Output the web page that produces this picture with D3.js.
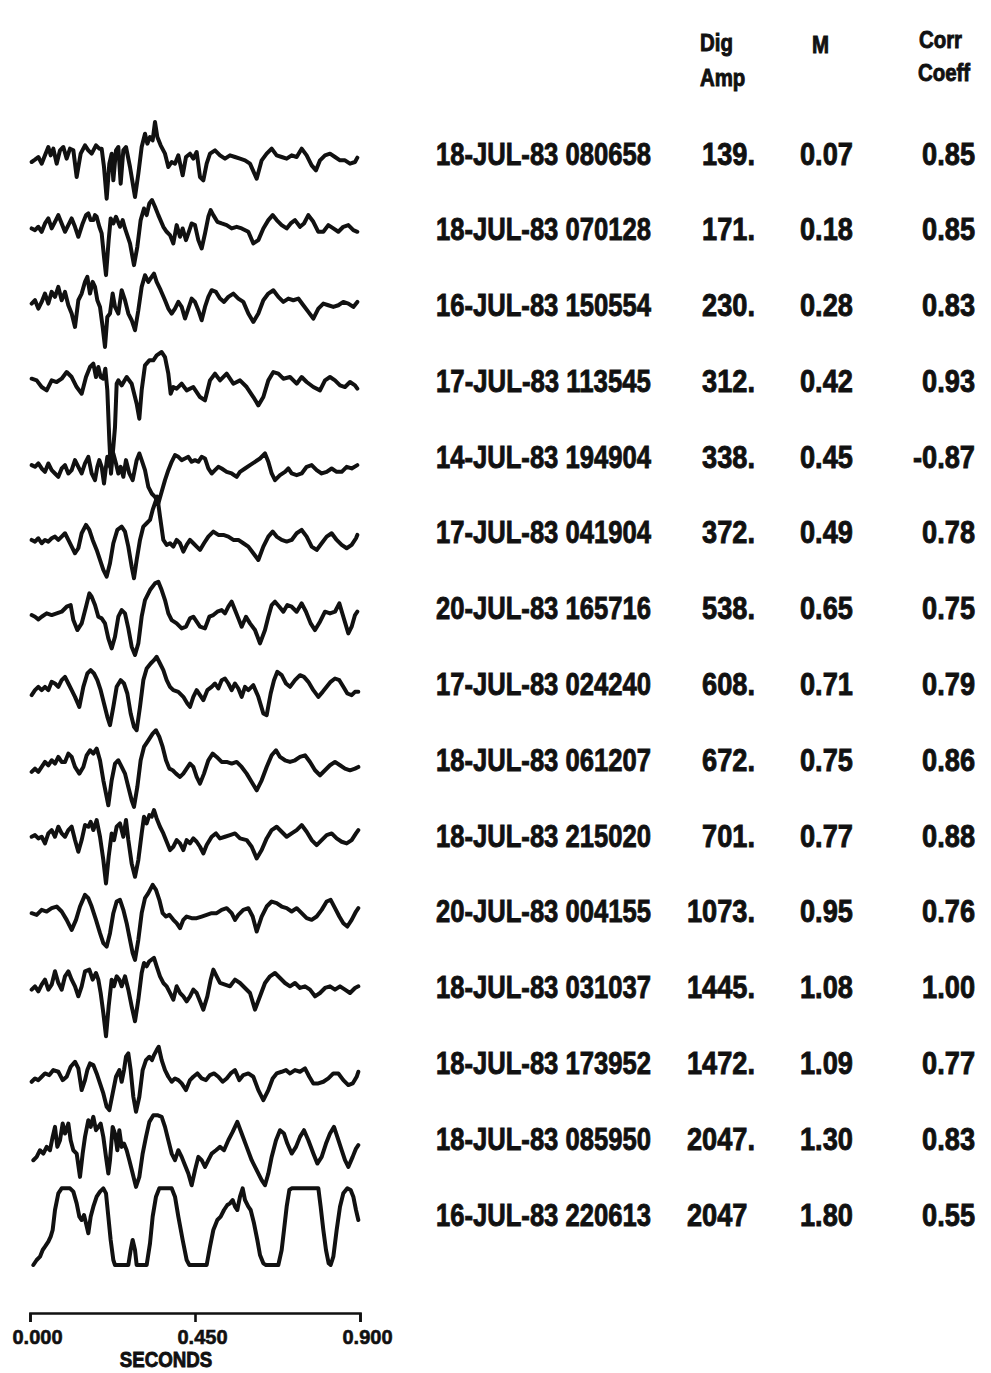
<!DOCTYPE html>
<html>
<head>
<meta charset="utf-8">
<script src="https://cdn.jsdelivr.net/npm/d3@7"></script>
<style>
  html, body { margin: 0; padding: 0; background: #fff; }
  svg { display: block; }
  text { font-family: "Liberation Sans", Arial, sans-serif; font-weight: bold; fill: #111; }
</style>
</head>
<body>
<svg id="chart" width="991" height="1373"></svg>
<script>
// Digitized seismogram records: [sample index, amplitude in counts (relative)]
const SAMPLE_RATE = 1100; // samples per second

const trace01 = [[5,-27],[15,-20],[25,-12],[35,-32],[45,-7],[55,18],[62,-7],[70,13],[80,-32],[90,8],[100,18],[110,-17],[120,13],[130,8],[140,-72],[152,-2],[165,23],[175,8],[185,-2],[198,23],[208,13],[215,13],[222,-42],[230,-137],[238,-32],[245,-2],[250,-82],[258,8],[265,18],[272,-92],[280,8],[288,18],[300,-42],[315,-132],[325,-62],[335,18],[345,58],[352,28],[360,48],[368,38],[375,93],[382,48],[392,23],[405,-2],[415,-42],[425,-27],[435,-32],[445,-7],[458,-67],[468,-12],[480,-2],[490,-17],[500,3],[510,-72],[520,-82],[530,-32],[540,-2],[555,8],[570,-7],[585,-17],[600,-7],[615,-12],[630,-17],[645,-22],[660,-32],[680,-77],[695,-22],[710,-2],[725,13],[740,-7],[755,-12],[770,-17],[785,-7],[800,-12],[815,13],[830,-7],[845,-37],[858,-52],[870,-22],[885,-7],[900,-2],[915,-12],[930,-22],[945,-22],[960,-32],[975,-27],[982,-14]];

const trace02 = [[5,1],[15,-4],[25,6],[35,-9],[45,16],[55,31],[65,1],[75,21],[85,41],[95,16],[105,-9],[115,11],[125,31],[135,6],[145,-24],[158,16],[168,41],[175,46],[182,26],[190,26],[195,41],[200,36],[208,6],[215,-14],[222,-84],[228,-139],[236,-34],[242,31],[250,16],[258,36],[270,6],[278,26],[285,1],[300,-44],[312,-109],[322,-54],[332,26],[342,61],[350,41],[358,76],[366,86],[375,66],[385,41],[400,6],[410,-9],[420,-19],[430,-44],[440,11],[450,-24],[458,1],[468,-34],[475,-14],[485,16],[495,11],[505,-34],[515,-59],[525,-14],[535,36],[542,56],[550,41],[562,21],[575,16],[590,11],[605,1],[620,6],[635,1],[655,-9],[670,-44],[685,-34],[700,1],[715,26],[728,41],[740,26],[755,11],[770,1],[782,16],[795,26],[810,6],[822,16],[835,41],[850,21],[865,-9],[880,-9],[895,11],[910,1],[925,-9],[940,6],[955,11],[970,-4],[982,-9]];

const trace03 = [[5,3],[15,13],[25,-12],[35,8],[45,33],[55,3],[65,38],[75,23],[85,53],[95,13],[105,38],[115,-2],[125,-27],[135,-67],[145,13],[155,33],[165,68],[172,83],[180,33],[188,68],[195,53],[202,13],[210,-7],[218,-67],[225,-127],[232,-37],[240,-27],[248,33],[255,-7],[265,-27],[275,43],[285,13],[295,-27],[305,-47],[315,-77],[325,-17],[335,53],[345,88],[355,68],[365,83],[372,93],[380,68],[392,43],[405,13],[415,-12],[425,-27],[435,-12],[445,8],[455,-7],[465,-42],[475,-12],[485,18],[495,8],[505,-17],[515,-47],[525,-7],[535,23],[545,43],[558,38],[570,18],[582,8],[595,23],[610,33],[625,18],[640,8],[655,-27],[670,-52],[685,-27],[700,13],[715,33],[730,43],[745,23],[760,8],[775,18],[790,13],[805,18],[820,-2],[835,-22],[850,-42],[865,-12],[880,3],[895,-2],[910,-7],[925,-2],[940,8],[955,3],[970,-7],[982,8]];

const trace04 = [[5,5],[20,0],[35,-20],[50,-30],[65,0],[80,-5],[95,5],[110,25],[125,10],[140,-20],[155,-40],[168,10],[180,40],[190,50],[198,10],[205,40],[212,10],[220,5],[226,35],[232,-30],[238,-180],[243,-280],[250,-200],[255,-140],[260,-10],[265,0],[275,-15],[290,10],[305,-10],[320,-70],[328,-115],[335,-30],[345,45],[358,60],[370,60],[380,75],[395,85],[405,70],[415,20],[422,-40],[430,-20],[440,-25],[455,-10],[470,-30],[490,-20],[510,-50],[525,-60],[540,0],[555,20],[570,0],[590,20],[610,-10],[630,0],[650,-20],[670,-50],[685,-75],[700,-50],[715,0],[730,25],[745,20],[760,5],[780,10],[800,-10],[815,10],[830,-5],[850,-20],[870,-30],[885,0],[900,10],[915,0],[930,-15],[945,-20],[960,-5],[975,-15],[982,-25]];

const trace05 = [[5,-27],[15,-32],[25,-22],[35,-37],[45,-47],[55,-22],[65,-42],[75,-52],[85,-62],[95,-37],[105,-27],[115,-52],[125,-42],[135,-12],[145,-32],[155,-52],[165,-22],[175,-2],[185,-52],[195,-72],[202,-32],[208,-12],[215,-32],[222,-82],[228,-32],[232,-2],[240,-32],[250,8],[258,-22],[265,-52],[272,-32],[280,-62],[288,-12],[298,-52],[308,-72],[320,-12],[328,8],[335,-12],[345,-42],[355,-92],[365,-112],[375,-122],[385,-142],[395,-107],[405,-72],[415,-42],[425,-17],[435,3],[445,-2],[455,-12],[465,-7],[475,-2],[485,-17],[495,-12],[505,-17],[515,-2],[525,-7],[535,-37],[545,-52],[555,-42],[565,-32],[575,-37],[590,-47],[605,-52],[620,-62],[630,-47],[645,-37],[660,-27],[675,-17],[690,-7],[705,8],[715,-17],[725,-52],[735,-72],[750,-57],[765,-47],[775,-37],[785,-52],[800,-57],[815,-52],[830,-32],[845,-27],[860,-42],[875,-52],[890,-47],[905,-37],[920,-47],[935,-47],[950,-32],[965,-37],[982,-27]];

const trace06 = [[5,-24],[15,-29],[25,-19],[35,-34],[45,-24],[55,-29],[65,-19],[75,-14],[85,-24],[95,-14],[105,-4],[115,-24],[125,-44],[135,-64],[145,-49],[155,-4],[168,21],[178,6],[188,-24],[200,-54],[210,-84],[220,-114],[230,-134],[240,-94],[250,-34],[262,6],[275,16],[285,1],[295,-44],[305,-104],[312,-139],[320,-84],[330,-24],[340,16],[350,26],[360,36],[368,66],[375,86],[382,106],[390,46],[400,-24],[410,-39],[420,-34],[430,-44],[440,-24],[450,-34],[460,-59],[470,-39],[480,-24],[490,-34],[500,-44],[510,-54],[522,-34],[535,-14],[550,1],[565,-9],[580,-9],[595,-14],[610,-24],[625,-24],[640,-34],[655,-44],[670,-64],[685,-84],[700,-44],[715,-14],[728,1],[740,-14],[755,-24],[770,-29],[785,-24],[800,-4],[815,6],[830,-14],[845,-44],[860,-54],[875,-34],[890,-14],[905,-4],[920,-24],[935,-39],[950,-49],[965,-39],[978,-19],[982,-9]];

const trace07 = [[5,-22],[15,-27],[25,-35],[35,-27],[50,-17],[65,-22],[80,-17],[95,-12],[110,3],[122,8],[130,-37],[142,-67],[155,-47],[168,3],[178,43],[185,33],[195,8],[205,-27],[215,-32],[225,-47],[235,-92],[245,-122],[255,-87],[265,-27],[275,-7],[285,-17],[295,-62],[305,-117],[315,-142],[325,-107],[335,-27],[345,23],[360,53],[375,73],[385,78],[395,53],[405,23],[415,-17],[425,-37],[440,-47],[455,-62],[468,-57],[480,-32],[490,-27],[500,-42],[510,-57],[525,-62],[538,-27],[550,-22],[562,-12],[575,-7],[585,-17],[595,3],[605,18],[615,-7],[625,-32],[635,-57],[648,-27],[660,-47],[675,-67],[690,-107],[705,-67],[715,-27],[725,8],[735,18],[748,3],[760,-12],[772,8],[785,3],[800,-12],[815,13],[828,-12],[842,-47],[855,-67],[870,-42],[885,-12],[900,-17],[915,-12],[928,13],[940,-27],[955,-77],[965,-57],[975,-22],[982,-12]];

const trace08 = [[5,-35],[15,-20],[25,-10],[35,-20],[45,-10],[55,-20],[65,5],[75,0],[85,-10],[95,10],[105,20],[115,0],[125,-20],[135,-40],[148,-70],[160,-10],[172,30],[182,40],[192,30],[202,10],[212,-20],[222,-60],[232,-100],[240,-125],[250,-70],[260,-10],[272,10],[282,0],[292,-30],[302,-90],[312,-130],[320,-140],[330,-70],[340,10],[350,45],[362,60],[372,70],[380,80],[390,60],[400,40],[410,10],[420,-10],[430,-20],[445,-25],[460,-40],[472,-60],[480,-70],[490,-40],[500,-20],[510,-35],[520,-50],[532,-20],[545,-10],[555,0],[565,-15],[575,10],[585,15],[595,0],[605,-20],[615,0],[625,-15],[635,-40],[645,-10],[655,-20],[670,-5],[685,-40],[700,-90],[710,-95],[722,-30],[732,10],[742,35],[755,25],[768,0],[780,-10],[795,10],[810,25],[822,20],[835,5],[850,-20],[865,-40],[878,-25],[890,-10],[902,5],[915,15],[928,10],[940,-10],[952,-30],[965,-35],[975,-25],[985,-25]];

const trace09 = [[5,-38],[15,-28],[25,-38],[35,-23],[45,-8],[55,-18],[65,-3],[75,-13],[85,7],[95,-8],[105,-8],[115,17],[125,7],[135,-23],[148,-43],[160,-23],[170,12],[180,27],[190,17],[200,32],[210,-3],[220,-63],[228,-103],[235,-138],[245,-63],[255,-13],[265,-3],[275,-23],[285,-43],[295,-83],[305,-123],[312,-143],[322,-83],[332,-3],[342,37],[355,57],[368,77],[378,87],[388,67],[398,37],[408,-3],[418,-28],[428,-33],[438,-43],[450,-53],[460,-43],[470,-28],[480,-13],[490,-23],[500,-53],[510,-73],[522,-43],[535,-3],[548,17],[560,7],[575,-8],[590,-8],[605,-13],[620,-8],[635,-23],[650,-43],[665,-68],[680,-93],[695,-63],[710,-23],[725,12],[738,27],[750,7],[765,-3],[780,-8],[795,-3],[810,7],[825,12],[840,-8],[855,-33],[870,-48],[885,-33],[900,-18],[915,-8],[930,-18],[945,-28],[960,-33],[975,-28],[985,-23]];

const trace10 = [[5,-5],[15,0],[25,-10],[35,-5],[45,-25],[55,5],[65,15],[75,-5],[85,25],[95,5],[105,-5],[115,15],[125,25],[135,-15],[145,-50],[155,-15],[165,30],[175,25],[182,40],[190,15],[200,45],[210,-5],[220,-75],[228,-145],[236,-65],[245,5],[252,-15],[260,25],[270,35],[280,-5],[288,45],[295,-15],[305,-85],[315,-125],[325,-75],[335,5],[342,55],[350,35],[358,60],[365,55],[372,75],[380,50],[390,25],[400,5],[410,-20],[420,-45],[430,-35],[440,-15],[450,-25],[460,-45],[470,-15],[480,-25],[490,-10],[500,-20],[510,-35],[520,-55],[530,-30],[545,-5],[558,5],[570,-10],[585,-5],[600,0],[615,5],[630,-10],[650,-15],[665,-35],[680,-70],[695,-45],[710,-10],[725,15],[740,25],[755,10],[770,-5],[785,5],[800,15],[815,30],[830,10],[845,-15],[860,-30],[875,-15],[890,0],[905,5],[920,-10],[935,-20],[950,-25],[965,-15],[978,5],[985,15]];

const trace11 = [[5,-7],[20,-12],[35,3],[50,-2],[65,8],[80,13],[95,-2],[110,-27],[125,-57],[138,-27],[150,13],[165,48],[175,38],[185,13],[198,-27],[210,-67],[220,-97],[230,-107],[240,-67],[250,-7],[260,28],[270,33],[280,3],[290,-37],[300,-87],[308,-127],[315,-147],[325,-87],[335,-7],[345,38],[355,53],[368,78],[378,63],[388,33],[398,-7],[408,-17],[418,-12],[430,-27],[440,-37],[450,-52],[460,-27],[470,-17],[485,-22],[500,-22],[515,-17],[530,-12],[545,-7],[560,-7],[575,3],[590,8],[605,-7],[615,-27],[625,-12],[640,3],[655,8],[668,-17],[680,-62],[695,-17],[710,13],[725,28],[740,23],[755,13],[770,8],[785,-2],[800,8],[815,-7],[830,-22],[845,-27],[860,-17],[875,3],[890,28],[902,33],[915,8],[928,-17],[940,-37],[952,-47],[965,-27],[978,-2],[985,8]];

const trace12 = [[5,-9],[15,1],[25,-14],[35,6],[45,21],[55,-9],[65,6],[75,46],[85,11],[95,-9],[105,31],[115,46],[125,21],[135,1],[145,-29],[155,1],[165,46],[178,51],[188,21],[198,41],[205,21],[212,-19],[220,-79],[228,-149],[236,-59],[245,21],[252,1],[260,31],[268,21],[275,1],[285,31],[295,-9],[305,-59],[315,-104],[325,-39],[335,41],[342,71],[350,61],[358,76],[365,81],[372,86],[380,61],[390,31],[400,11],[410,1],[420,-19],[430,-39],[440,1],[450,-19],[460,-29],[470,-44],[480,-29],[490,-9],[500,-19],[510,-44],[520,-69],[532,-29],[542,21],[550,51],[560,31],[570,11],[585,6],[600,1],[615,21],[630,11],[645,-4],[660,-19],[675,-69],[690,-29],[705,11],[720,31],[735,41],[750,26],[765,11],[780,1],[795,11],[810,-4],[825,1],[840,-9],[855,-29],[870,-19],[885,-4],[900,1],[915,-9],[930,1],[945,-9],[960,-19],[975,-4],[985,1]];

const trace13 = [[5,-58],[15,-48],[25,-53],[35,-43],[45,-33],[58,-38],[70,-23],[85,-28],[98,-53],[110,-43],[122,-13],[135,2],[145,-18],[155,-83],[165,-53],[172,-23],[180,-3],[190,-8],[200,-33],[210,-63],[220,-93],[230,-133],[238,-143],[248,-93],[258,-43],[268,-23],[275,-58],[282,-23],[288,17],[295,27],[302,-23],[310,-103],[318,-148],[328,-103],[338,-23],[348,7],[358,17],[366,7],[372,22],[380,37],[386,47],[395,7],[405,-23],[415,-43],[425,-58],[435,-48],[445,-53],[455,-63],[468,-83],[480,-53],[490,-43],[502,-33],[515,-48],[528,-53],[540,-38],[552,-33],[565,-43],[578,-58],[590,-48],[602,-33],[615,-23],[628,-53],[640,-38],[655,-33],[670,-43],[685,-83],[700,-113],[715,-83],[728,-48],[740,-33],[755,-28],[768,-23],[780,-33],[795,-23],[810,-28],[825,-18],[838,-43],[850,-63],[865,-63],[880,-58],[895,-48],[910,-33],[925,-33],[940,-53],[955,-68],[968,-63],[980,-43],[985,-28]];

const trace14 = [[10,-66],[20,-56],[30,-36],[40,-46],[50,-26],[60,-36],[68,4],[75,34],[82,-26],[90,-6],[98,44],[105,14],[115,44],[122,-6],[130,-36],[140,-46],[150,-116],[158,-46],[165,4],[175,54],[182,34],[190,64],[198,24],[205,34],[212,44],[220,4],[228,-56],[235,-106],[240,-66],[248,34],[255,14],[262,-36],[268,24],[275,-26],[282,-16],[290,-36],[298,-66],[308,-106],[318,-146],[328,-116],[338,-46],[348,4],[358,49],[370,69],[382,69],[395,64],[405,34],[415,-6],[425,-46],[435,-66],[445,-36],[455,-56],[465,-81],[475,-106],[485,-141],[495,-96],[505,-56],[515,-66],[525,-86],[535,-66],[545,-46],[558,-36],[570,-26],[582,-36],[595,-6],[608,19],[622,49],[635,14],[650,-26],[665,-66],[680,-96],[695,-126],[705,-141],[715,-106],[725,-56],[738,-6],[750,24],[762,14],[772,-16],[785,-46],[798,-26],[810,4],[822,24],[835,-6],[850,-46],[862,-76],[875,-56],[888,-16],[900,14],[912,34],[922,4],[935,-36],[945,-66],[955,-86],[968,-56],[978,-31],[985,-21]];

// saturated record: the digitizer clips at full scale
const trace15 = [[10,-153],[20,-138],[30,-128],[38,-108],[45,-98],[55,-83],[62,-68],[68,-48],[75,12],[85,62],[95,77],[120,77],[130,67],[140,32],[148,-8],[155,-18],[162,-3],[168,-28],[175,-58],[182,-8],[190,22],[200,52],[210,67],[220,77],[228,62],[235,-8],[242,-78],[250,-138],[255,-153],[295,-153],[302,-108],[308,-78],[315,-108],[320,-153],[350,-153],[360,-88],[368,-8],[378,52],[388,77],[425,77],[435,52],[445,-8],[458,-78],[470,-138],[478,-153],[530,-153],[540,-98],[550,-48],[562,-18],[572,-8],[582,12],[592,27],[600,32],[608,42],[615,22],[622,12],[630,52],[638,77],[645,42],[655,22],[662,12],[672,-28],[682,-78],[690,-123],[700,-148],[708,-153],[745,-153],[755,-108],[762,-48],[770,22],[778,72],[785,77],[865,77],[872,22],[880,-48],[888,-108],[896,-148],[902,-153],[910,-128],[920,-48],[930,22],[940,62],[952,77],[962,72],[970,52],[978,12],[985,-18]];

const traces = [trace01, trace02, trace03, trace04, trace05, trace06, trace07, trace08,
                trace09, trace10, trace11, trace12, trace13, trace14, trace15];

// Event table
const eventTimes = ["18-JUL-83 080658", "18-JUL-83 070128", "16-JUL-83 150554", "17-JUL-83 113545",
  "14-JUL-83 194904", "17-JUL-83 041904", "20-JUL-83 165716", "17-JUL-83 024240",
  "18-JUL-83 061207", "18-JUL-83 215020", "20-JUL-83 004155", "18-JUL-83 031037",
  "18-JUL-83 173952", "18-JUL-83 085950", "16-JUL-83 220613"];
const digAmp = ["139.", "171.", "230.", "312.", "338.", "372.", "538.", "608.",
  "672.", "701.", "1073.", "1445.", "1472.", "2047.", "2047"];
const magnitude = ["0.07", "0.18", "0.28", "0.42", "0.45", "0.49", "0.65", "0.71",
  "0.75", "0.77", "0.95", "1.08", "1.09", "1.30", "1.80"];
const corrCoeff = ["0.85", "0.85", "0.83", "0.93", "-0.87", "0.78", "0.75", "0.79",
  "0.86", "0.88", "0.76", "1.00", "0.77", "0.83", "0.55"];

const timeTicks = [0, 0.45, 0.9];
const timeLabel = "SECONDS";

// ---- drawing ----
const svg = d3.select("#chart");
svg.append("rect").attr("width", 991).attr("height", 1373).attr("fill", "#fff");

const x = d3.scaleLinear().domain([0, 0.9]).range([30, 360]);
const row = d3.scalePoint().domain(d3.range(traces.length)).range([153, 1214]);
const amp = d3.scaleLinear().domain([-300, 300]).range([100, -100]);

const line = d3.line()
  .x(d => x(d[0] / SAMPLE_RATE))
  .y(d => amp(d[1]))
  .curve(d3.curveLinear);

svg.append("g").selectAll("path")
  .data(traces)
  .join("path")
  .attr("transform", (d, i) => `translate(0,${row(i)})`)
  .attr("d", line)
  .attr("fill", "none")
  .attr("stroke", "#111")
  .attr("stroke-width", 4)
  .attr("stroke-linejoin", "round")
  .attr("stroke-linecap", "round");

// condensed heavy text helper
function label(g, xPos, yPos, str, size, anchor, sx) {
  return g.append("text")
    .attr("transform", `translate(${xPos},${yPos}) scale(${sx},1)`)
    .attr("font-size", size)
    .attr("text-anchor", anchor)
    .attr("stroke", "#111")
    .attr("stroke-width", 0.9)
    .text(str);
}

const table = svg.append("g");
const FS = 32, SX = 0.85, base = FS * 0.36;
const periodWidth = FS * 0.278 * SX;
const DATE_WIDTH = 215;

// column headers
label(table, 700, 51, "Dig", 24, "start", SX);
label(table, 700, 86, "Amp", 24, "start", SX);
label(table, 812, 53, "M", 24, "start", SX);
label(table, 919, 48, "Corr", 24, "start", SX);
label(table, 918, 81, "Coeff", 24, "start", SX);

eventTimes.forEach((s, i) => {
  const y = row(i) + base;
  // squeeze the event time into its column width
  const t = label(table, 436, y, s, FS, "start", 1);
  const w = t.node().getComputedTextLength();
  t.attr("transform", `translate(436,${y}) scale(${DATE_WIDTH / w},1)`);
  // amplitudes line up on the decimal point; a clipped value has none
  const hasPoint = digAmp[i].endsWith(".");
  label(table, hasPoint ? 755 : 755 - periodWidth, y, digAmp[i], FS, "end", SX);
  label(table, 800, y, magnitude[i], FS, "start", SX);
  label(table, 975, y, corrCoeff[i], FS, "end", SX);
});

// time scale bar
const axis = d3.axisBottom(x)
  .tickValues(timeTicks)
  .tickSize(9)
  .tickSizeOuter(9)
  .tickPadding(8)
  .tickFormat(d3.format(".3f"));

const ax = svg.append("g").attr("transform", "translate(0,1313)").call(axis);
ax.select(".domain").attr("stroke", "#111").attr("stroke-width", 2.6);
ax.selectAll(".tick line").attr("stroke", "#111").attr("stroke-width", 2.6);
ax.selectAll(".tick text")
  .attr("font-family", "Liberation Sans, Arial, sans-serif")
  .attr("font-weight", "bold")
  .attr("font-size", 20)
  .attr("fill", "#111")
  .attr("stroke", "#111").attr("stroke-width", 0.6)
  .attr("dx", 7);

label(svg, 166, 1367, timeLabel, 22, "middle", SX);
</script>
</body>
</html>
